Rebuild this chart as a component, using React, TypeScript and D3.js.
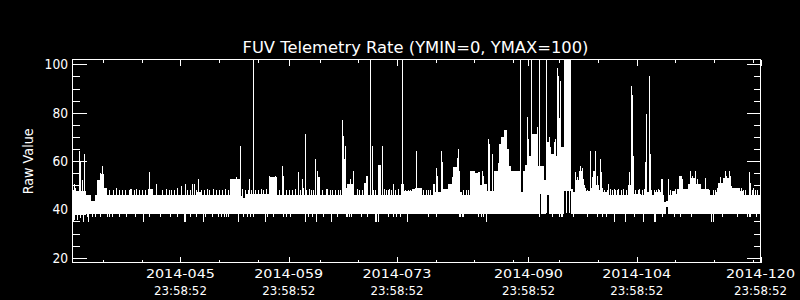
import React from 'react';
import * as d3 from 'd3';

// ---- data (day index, raw value) ----
const bandDays = [32.0, 33.75, 34.45, 34.95, 35.2, 35.7, 36.1, 36.5, 41.75, 42.4, 48.2, 48.6, 52.4, 53.7, 54.1, 54.4, 57.4, 58.5, 59.2, 59.4, 63.85, 64.0, 64.8, 65.1, 67.1, 67.27, 67.6, 68.5, 69.8, 70.0, 70.2, 70.3, 71.6, 71.9, 74.5, 74.9, 75.9, 76.3, 77.2, 78.6, 78.95, 79.9, 80.6, 81.1, 81.3, 81.8, 82.0, 82.2, 82.4, 83.45, 84.1, 84.5, 84.75, 85.2, 85.6, 86.6, 87.0, 87.25, 87.5, 87.8, 88.2, 88.5, 88.75, 89.9, 90.3, 90.7, 91.0, 91.5, 92.2, 92.4, 92.57, 93.0, 93.3, 93.7, 93.9, 94.3, 94.45, 94.7, 95.2, 95.6, 96.45, 96.8, 97.0, 97.5, 97.9, 98.3, 98.9, 99.3, 99.6, 100.0, 100.4, 100.6, 101.3, 103.9, 104.2, 104.6, 105.5, 106.1, 106.7, 107.2, 108.15, 108.4, 108.55, 108.75, 109.05, 109.5, 109.9, 110.2, 110.4, 110.65, 110.85, 111.0, 111.6, 111.9, 112.6, 113.25, 114.3, 115.3, 115.55, 116.2, 117.1, 117.3, 118.3, 118.9, 121.0];
const bandHi = [47.5, 46, 43.5, 46, 52, 54.5, 49, 45.8, 48.4, 45.8, 47, 45.8, 52.5, 45.5, 44.5, 46.2, 53.5, 45.8, 53.9, 45.8, 53.2, 45.8, 48.4, 45.8, 61, 49, 50.5, 45.8, 51, 54, 51, 45.8, 58.3, 45.8, 50.5, 47.7, 48.4, 49, 45.8, 50.5, 47, 48.4, 50.5, 53.2, 57.5, 61.4, 43, 47, 45.8, 56, 55, 55.3, 50, 50.5, 47.5, 56, 59, 67, 70, 73, 65, 58, 56, 47, 56, 58.5, 62, 71, 58, 58, 58, 52, 68, 66, 63, 68, 62, 70, 66, 103, 48.4, 47, 52, 56, 50, 47.5, 49, 56, 50, 48, 49, 47, 45.8, 50, 52, 46.5, 45.8, 47, 45.8, 47, 52.5, 45.8, 43, 43.5, 45.8, 47.5, 46.5, 48.4, 52.5, 53.9, 52.5, 48.4, 50.5, 53, 50.5, 48.4, 45.8, 47, 51, 53, 49.5, 49, 47.5, 45.8, 45.8];
const bandLo = [37.5, 38, 38, 38, 38, 38, 38, 38, 38, 38, 38, 38, 38, 38, 38, 38, 38, 38, 38, 38, 38, 38, 38, 38, 38, 38, 38, 38, 38, 38, 38, 38, 38, 38, 38, 38, 38, 38, 38, 38, 38, 38, 38, 38, 38, 38, 38.5, 38, 38, 38, 38, 38, 38, 38, 38, 38, 38, 38, 38, 38, 38, 38, 38, 38, 38, 38, 38, 38, 38, 46.5, 38, 38, 46, 38, 38, 38, 38, 38, 38, 47.5, 38, 38, 38, 38, 38, 38, 38, 38, 38, 38, 38, 38, 38, 38, 38, 38, 38, 38, 38, 38, 38, 38, 38, 41, 38, 38, 38, 38, 38, 38, 38, 38, 38, 38, 38, 38, 38, 38, 38, 38, 38, 38, 38, 38, 38];

const spikeDays = [32.3, 32.9, 33.0, 33.05, 33.3, 33.54, 35.6, 35.85, 37.7, 39.5, 41.9, 42.9, 46.6, 47.45, 47.8, 48.3, 53.15, 53.4, 53.67, 54.0, 54.9, 55.35, 57.5, 58.25, 59.1, 61.2, 61.7, 61.8, 62.08, 63.37, 63.7, 66.87, 67.0, 67.26, 67.9, 68.3, 70.5, 70.76, 72.05, 73.5, 74.65, 76.46, 79.05, 79.2, 79.7, 79.83, 81.9, 82.0, 84.2, 85.0, 85.1, 85.4, 85.8, 85.9, 86.3, 89.93, 90.5, 90.63, 90.8, 90.9, 90.97, 91.27, 92.1, 92.31, 93.26, 93.6, 94.4, 94.69, 94.8, 95.0, 95.12, 95.9, 96.2, 97.06, 97.3, 97.6, 97.9, 98.1, 98.35, 99.0, 99.2, 99.65, 99.8, 99.95, 100.25, 100.4, 101.3, 104.0, 104.31, 104.44, 104.57, 106.09, 106.22, 106.52, 106.65, 108.2, 109.1, 110.5, 111.9, 112.1, 112.5, 112.8, 113.8, 115.8, 116.4, 116.6, 116.9, 117.1, 118.5, 119.47, 119.6, 120.0];
const spikeVals = [50.5, 64.2, 59.7, 58, 52, 62.8, 55, 58, 49, 48.5, 55.3, 50.5, 50.5, 50.5, 50.5, 52.5, 53.2, 52.5, 66.2, 48.4, 52.5, 110, 54, 54, 58, 55.3, 52.5, 49, 71.3, 61, 56, 77.1, 70.3, 66.2, 52.5, 56, 110, 66.2, 66.2, 50.5, 110, 64.2, 57.3, 54, 64.2, 59.4, 65.1, 56, 54, 56, 54, 50.5, 69.3, 67.2, 63.1, 110, 58.3, 58, 78.2, 69.3, 66.2, 110, 74.1, 110, 110, 70, 69.2, 98.5, 95, 78, 93, 73.8, 71, 55.3, 53.2, 58, 57.3, 52.5, 49, 64.2, 53.2, 64.2, 53.9, 50, 61, 55.3, 50.5, 55.3, 90.9, 87.2, 62.1, 59.4, 79.3, 95.2, 63.1, 50.5, 52.5, 54, 56, 53.9, 56, 52.5, 53, 53.2, 56, 53.9, 56, 53.9, 49, 55.3, 51, 49];

const fringeDays = [32.1, 32.4, 36.8, 37.3, 38.1, 38.5, 38.9, 39.3, 39.6, 40.0, 40.3, 40.7, 41.0, 41.4, 43.6, 44.1, 44.5, 44.8, 45.2, 45.6, 46.1, 46.9, 47.2, 48.0, 48.6, 49.0, 49.4, 49.7, 50.25, 50.6, 51.0, 51.4, 51.8, 52.2, 54.3, 54.7, 55.1, 55.6, 56.0, 56.4, 56.7, 57.1, 58.7, 59.6, 60.0, 60.4, 60.8, 61.4, 62.3, 62.6, 62.9, 63.1, 64.3, 65.3, 65.6, 66.0, 66.4, 66.6, 68.8, 69.1, 69.5, 70.9, 71.2, 72.3, 72.6, 72.9, 73.0, 73.2, 73.8, 74.1, 75.1, 75.4, 75.7, 77.1, 77.4, 77.7, 78.0, 78.3, 80.0, 80.3, 82.6, 82.9, 83.2, 96.6, 98.6, 100.8, 101.1, 101.5, 101.8, 102.0, 102.2, 102.5, 102.6, 102.9, 103.2, 103.6, 104.8, 105.1, 105.3, 105.7, 105.9, 106.9, 107.2, 107.5, 107.8, 107.9, 109.3, 109.9, 110.0, 113.7, 114.0, 114.4, 114.8, 115.1, 115.4, 118.1, 118.7, 119.0, 119.9, 120.3, 120.6];
const fringeVals = [47.8, 49, 47.8, 47.8, 47.8, 47.8, 47.8, 47.8, 48.4, 47.8, 48.5, 47.8, 47.8, 47.8, 47.8, 48.4, 47.8, 47.8, 47.8, 49, 49.5, 47.8, 47.8, 47.8, 47.8, 47.8, 48.4, 47.8, 48.4, 47.8, 47.8, 47.8, 48.4, 47.8, 47.8, 47.8, 47.8, 47.8, 47.8, 48.4, 47.8, 48.4, 47.8, 47.8, 47.8, 47.8, 48.4, 47.8, 47.8, 48.4, 47.8, 47.8, 47.8, 47.8, 47.8, 47.8, 47.8, 47.8, 48.4, 47.8, 47.8, 47.8, 47.8, 48.4, 47.8, 47.8, 48.4, 47.8, 47.8, 48.4, 47.8, 47.8, 47.8, 47.8, 47.8, 47.8, 47.8, 47.8, 47.8, 47.8, 47.8, 47.8, 47.8, 47.8, 47.8, 47.8, 47.8, 48.4, 47.8, 48.4, 47.8, 47.8, 48.4, 47.8, 48.4, 47.8, 47.8, 47.8, 48.4, 47.8, 48.4, 47.8, 47.8, 47.8, 48.4, 47.8, 47.8, 48.4, 47.8, 47.8, 47.8, 47.8, 47.8, 47.8, 49, 47.8, 47.8, 47.8, 47.8, 47.8, 48];

const dipDays = [32.05, 32.15, 32.3, 32.6, 33.0, 33.45, 33.9, 34.0, 34.6, 34.9, 35.6, 36.5, 36.8, 37.2, 38.0, 39.0, 40.1, 41.2, 42.0, 43.3, 44.6, 45.5, 46.5, 46.6, 47.3, 48.0, 48.9, 49.2, 50.1, 50.9, 51.3, 51.6, 51.9, 52.2, 53.4, 54.1, 54.6, 55.0, 55.4, 57.0, 57.2, 58.0, 59.3, 59.7, 60.2, 62.08, 62.5, 63.0, 63.5, 64.5, 65.45, 66.3, 67.4, 67.6, 67.8, 68.0, 69.3, 70.1, 71.1, 71.3, 71.5, 72.8, 73.5, 73.9, 74.4, 75.3, 78.06, 79.1, 82.0, 82.2, 82.4, 82.6, 84.5, 84.8, 85.1, 85.5, 92.4, 94.1, 95.0, 95.2, 95.4, 96.7, 98.6, 99.8, 100.5, 101.0, 102.0, 103.5, 104.6, 105.8, 107.2, 107.4, 108.3, 109.8, 110.6, 112.0, 114.6, 114.8, 116.0, 117.96, 119.3, 119.5, 119.7, 120.4];
const dipVals = [34.8, 34.8, 35.4, 35.4, 36.5, 34.8, 37, 34.7, 37, 37, 37, 37, 37, 37, 37, 37, 37, 34.8, 37, 37, 37, 37, 34.8, 34.8, 37, 37, 34.8, 37, 37, 37, 37, 37, 37, 37, 34.8, 37, 37, 37, 37, 34.8, 37, 37, 37, 37, 37, 34.8, 37, 37, 34.8, 37, 34.8, 37, 37, 37, 37, 37, 37, 37, 34.8, 34.8, 34.8, 37, 37, 37, 37, 34.8, 37, 37, 37, 37, 37, 37, 37, 37, 37, 34.8, 37, 37, 37, 37, 37, 37, 37, 37, 37, 37, 34.8, 34.8, 37, 34.8, 34.8, 34.8, 37, 37, 37, 37, 34.8, 34.8, 37, 37, 37, 37, 37, 37];

const majorTickDays = [46, 60, 74, 91, 105, 121];
const majorTickLabels = ['2014-045', '2014-059', '2014-073', '2014-090', '2014-104', '2014-120'];
const tickTimeLabel = '23:58:52';
const minorTickDays = [36, 41, 51, 56, 64, 69, 79, 84, 89, 95, 100, 110, 115, 120];
const yMajorTicks = [20, 40, 60, 80, 100];
const yMinorTicks = [25, 30, 35, 45, 50, 55, 65, 70, 75, 85, 90, 95];

const titleText = 'FUV Telemetry Rate (YMIN=0, YMAX=100)';
const yAxisTitle = 'Raw Value';

export default function App() {
  const W = 800, H = 300;
  const L = 72.5, R = 760.5, T = 59.5, B = 262.5;
  const x = d3.scaleLinear().domain([32.05, 121.0]).range([L, R]);
  const y = d3.scaleLinear().domain([18, 102]).range([B, T]);
  const px = (d: number) => Math.round(x(d)) + 0.5;
  const idx = d3.range(bandDays.length);
  const area = d3.area<number>()
    .x(i => x(bandDays[i]))
    .y0(i => y(bandLo[i]))
    .y1(i => y(bandHi[i]))
    .curve(d3.curveStepAfter);
  const font = "'DejaVu Sans', sans-serif";
  const white = '#ffffff';

  return (
    <svg width={W} height={H} style={{ position: 'absolute', left: 0, top: 0, background: '#000' }}>
      <rect x={0} y={0} width={W} height={H} fill="#000" />
      <defs>
        <clipPath id="plotclip">
          <rect x={L} y={T} width={R - L} height={B - T} />
        </clipPath>
      </defs>
      <g clipPath="url(#plotclip)">
        <path d={area(idx) || ''} fill={white} shapeRendering="crispEdges" />
        {spikeDays.map((d, i) => (
          <line key={'s' + i} x1={px(d)} x2={px(d)} y1={y(38.5)} y2={y(spikeVals[i])} stroke={white} strokeWidth={1} shapeRendering="crispEdges" />
        ))}
        {fringeDays.map((d, i) => (
          <line key={'f' + i} x1={px(d)} x2={px(d)} y1={y(44)} y2={y(fringeVals[i])} stroke={white} strokeWidth={1} shapeRendering="crispEdges" />
        ))}
        {dipDays.map((d, i) => (
          <line key={'d' + i} x1={px(d)} x2={px(d)} y1={y(39)} y2={y(dipVals[i])} stroke={white} strokeWidth={1} shapeRendering="crispEdges" />
        ))}
      </g>
      {/* frame */}
      <rect x={L} y={T} width={R - L} height={B - T} fill="none" stroke={white} strokeWidth={1} shapeRendering="crispEdges" />
      {/* y ticks */}
      {yMajorTicks.map(v => (
        <g key={'ym' + v}>
          <line x1={L} x2={L + 14} y1={Math.round(y(v)) + 0.5} y2={Math.round(y(v)) + 0.5} stroke={white} shapeRendering="crispEdges" />
          <line x1={R - 14} x2={R} y1={Math.round(y(v)) + 0.5} y2={Math.round(y(v)) + 0.5} stroke={white} shapeRendering="crispEdges" />
          <text x={68} y={y(v) + 5} fill={white} fontFamily={font} fontSize={14} textAnchor="end"
            textLength={7.8 * String(v).length} lengthAdjust="spacingAndGlyphs">{v}</text>
        </g>
      ))}
      {yMinorTicks.map(v => (
        <g key={'yn' + v}>
          <line x1={L} x2={L + 7} y1={Math.round(y(v)) + 0.5} y2={Math.round(y(v)) + 0.5} stroke={white} shapeRendering="crispEdges" />
          <line x1={R - 7} x2={R} y1={Math.round(y(v)) + 0.5} y2={Math.round(y(v)) + 0.5} stroke={white} shapeRendering="crispEdges" />
        </g>
      ))}
      {/* x ticks */}
      {majorTickDays.map((d, i) => (
        <g key={'xm' + d}>
          <line x1={px(d)} x2={px(d)} y1={B} y2={B - 6} stroke={white} shapeRendering="crispEdges" />
          <line x1={px(d)} x2={px(d)} y1={T} y2={T + 6} stroke={white} shapeRendering="crispEdges" />
          <text x={x(d)} y={277.5} fill={white} fontFamily={font} fontSize={13} textAnchor="middle"
            textLength={69} lengthAdjust="spacingAndGlyphs">{majorTickLabels[i]}</text>
          <text x={x(d)} y={294.5} fill={white} fontFamily={font} fontSize={13} textAnchor="middle"
            textLength={53} lengthAdjust="spacingAndGlyphs">{tickTimeLabel}</text>
        </g>
      ))}
      {minorTickDays.map(d => (
        <g key={'xn' + d}>
          <line x1={px(d)} x2={px(d)} y1={B} y2={B - 3} stroke={white} shapeRendering="crispEdges" />
          <line x1={px(d)} x2={px(d)} y1={T} y2={T + 3} stroke={white} shapeRendering="crispEdges" />
        </g>
      ))}
      {/* titles */}
      <text x={415.5} y={52.7} fill={white} fontFamily={font} fontSize={15} textAnchor="middle"
        textLength={346} lengthAdjust="spacingAndGlyphs">{titleText}</text>
      <text transform="translate(33,161.3) rotate(-90)" fill={white} fontFamily={font} fontSize={14}
        textAnchor="middle" textLength={66} lengthAdjust="spacingAndGlyphs">{yAxisTitle}</text>
    </svg>
  );
}
